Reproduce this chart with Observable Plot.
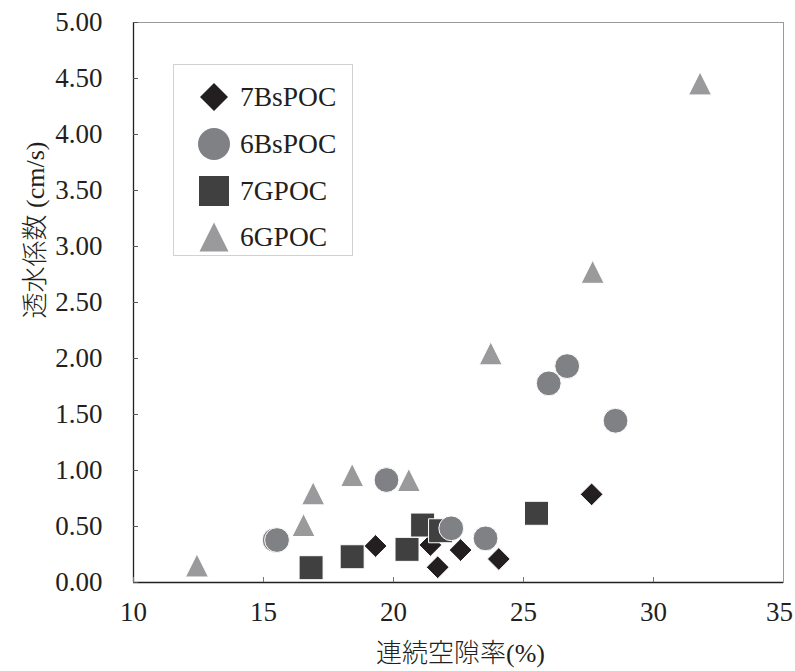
<!DOCTYPE html>
<html>
<head>
<meta charset="utf-8">
<script src="https://cdn.jsdelivr.net/npm/d3@7"></script>
<script src="https://cdn.jsdelivr.net/npm/@observablehq/plot@0.6"></script>
<style>
  body { margin: 0; background: #fff; }
  #chart { position: relative; width: 795px; height: 671px; overflow: hidden; }
  .legend {
    position: absolute; left: 173px; top: 64px; width: 180px; height: 192px;
    box-sizing: border-box; border: 1px solid #d2d2d2; background: #fff;
  }
  .legend .row { position: absolute; left: 0; height: 40px; display: flex; align-items: center; }
  .legend svg { width: 40px; height: 40px; margin-left: 20px; }
  .legend span {
    margin-left: 6px; font-family: "Liberation Serif", "Times New Roman", serif;
    font-size: 27.5px; color: #231f20; line-height: 40px;
  }
</style>
</head>
<body>
<div id="chart"></div>
<script>
// 連続空隙率 (%) と 透水係数 (cm/s) — 4 配合
const seriesNames = ["7BsPOC", "6BsPOC", "7GPOC", "6GPOC"];

const x7BsPOC = [19.31, 21.42, 21.70, 22.58, 24.05, 27.62];
const y7BsPOC = [0.326, 0.335, 0.136, 0.290, 0.210, 0.787];

const x6BsPOC = [15.43, 15.52, 19.73, 22.22, 23.54, 25.97, 26.68, 28.54];
const y6BsPOC = [0.379, 0.379, 0.915, 0.484, 0.394, 1.778, 1.932, 1.444];

const x7GPOC = [16.83, 18.41, 20.52, 21.12, 21.81, 25.50];
const y7GPOC = [0.132, 0.230, 0.296, 0.513, 0.462, 0.618];

const x6GPOC = [12.44, 16.54, 16.91, 18.41, 20.59, 23.74, 27.66, 31.79];
const y6GPOC = [0.152, 0.513, 0.796, 0.959, 0.915, 2.046, 2.774, 4.456];

const xTicks = [10, 15, 20, 25, 30, 35];
const yTicks = [0, 0.5, 1, 1.5, 2, 2.5, 3, 3.5, 4, 4.5, 5];
const xLabel = "連続空隙率(%)";
const yLabel = "透水係数 (cm/s)";

const rows = (xs, ys, name) => xs.map((x, i) => ({series: name, x, y: ys[i]}));
const d7BsPOC = rows(x7BsPOC, y7BsPOC, "7BsPOC");
const d6BsPOC = rows(x6BsPOC, y6BsPOC, "6BsPOC");
const d7GPOC = rows(x7GPOC, y7GPOC, "7GPOC");
const d6GPOC = rows(x6GPOC, y6GPOC, "6GPOC");

// Marker shapes; size is the symbol area (Plot passes π·r²)
const diamondSym = {draw(c, size) { const h = Math.sqrt(size / 2); c.moveTo(0, -h); c.lineTo(h, 0); c.lineTo(0, h); c.lineTo(-h, 0); c.closePath(); }};
const squareSym = {draw(c, size) { const h = Math.sqrt(size) / 2; c.rect(-h, -h, 2 * h, 2 * h); }};
const triangleSym = {draw(c, size) { const h = Math.sqrt(2 * size) / 2; c.moveTo(0, -h); c.lineTo(h, h); c.lineTo(-h, h); c.closePath(); }};
const circleSym = d3.symbolCircle;

const rFromArea = (a) => Math.sqrt(a / Math.PI);
const styles = {
  "7BsPOC": {symbol: diamondSym, fill: "#231f20", r: rFromArea(2 * 11.4 * 11.4), legendArea: 2 * 14 * 14},
  "6BsPOC": {symbol: circleSym, fill: "#808184", r: 12.4, legendArea: Math.PI * 16 * 16},
  "7GPOC": {symbol: squareSym, fill: "#404041", r: rFromArea(24 * 24), legendArea: 30 * 30},
  "6GPOC": {symbol: triangleSym, fill: "#9a9a9c", r: rFromArea(23 * 23 / 2), legendArea: 29 * 29 / 2}
};

const dots = (data, name) => Plot.dot(data, {
  x: "x", y: "y", symbol: styles[name].symbol, r: styles[name].r,
  fill: styles[name].fill, stroke: "#fff", strokeWidth: 1
});

const font = "'Liberation Serif', 'Times New Roman', 'Noto Sans CJK JP', serif";
const lastX = xTicks[xTicks.length - 1];

const chart = Plot.plot({
  width: 795,
  height: 671,
  marginLeft: 133,
  marginRight: 12,
  marginTop: 22,
  marginBottom: 89,
  x: {domain: [10, 35]},
  y: {domain: [0, 5]},
  style: {fontFamily: font, fontSize: "27px", color: "#231f20", background: "#fff"},
  marks: [
    Plot.frame({stroke: "#9a9a9a"}),
    Plot.ruleX([10], {stroke: "#231f20", strokeWidth: 1.3}),
    Plot.ruleY([0], {stroke: "#231f20", strokeWidth: 1.3}),
    Plot.axisX({ticks: xTicks.slice(0, -1), tickSize: -5, tickPadding: 24, tickFormat: d3.format("d"), label: null, stroke: "#777"}),
    // the last label sits at the right edge of the page, nudged inward
    Plot.axisX({ticks: [lastX], tickSize: 0, tickPadding: 19, tickFormat: d3.format("d"), label: null, dx: -4}),
    Plot.axisY({ticks: yTicks, tickSize: -5, tickPadding: 36, tickFormat: d3.format(".2f"), label: null, stroke: "#555"}),
    Plot.text([yLabel], {frameAnchor: "left", rotate: -90, dx: -98, dy: 16, fontSize: 26, fontWeight: 300, fill: "#231f20"}),
    Plot.text([xLabel], {frameAnchor: "bottom", dy: 79, dx: 2, fontSize: 26, fontWeight: 300, fill: "#231f20"}),
    dots(d7BsPOC, "7BsPOC"),
    dots(d7GPOC, "7GPOC"),
    dots(d6BsPOC, "6BsPOC"),
    dots(d6GPOC, "6GPOC")
  ]
});

const root = document.getElementById("chart");
root.appendChild(chart);

// Legend box inside the plotting area
const legend = document.createElement("div");
legend.className = "legend";
const rowTops = [12, 59, 106, 152];
seriesNames.forEach((name, i) => {
  const row = document.createElement("div");
  row.className = "row";
  row.style.top = rowTops[i] + "px";
  const s = styles[name];
  const path = d3.symbol(s.symbol, s.legendArea)();
  row.innerHTML = `<svg viewBox="-20 -20 40 40"><path d="${path}" fill="${s.fill}"></path></svg><span>${name}</span>`;
  legend.appendChild(row);
});
root.appendChild(legend);
</script>
</body>
</html>
